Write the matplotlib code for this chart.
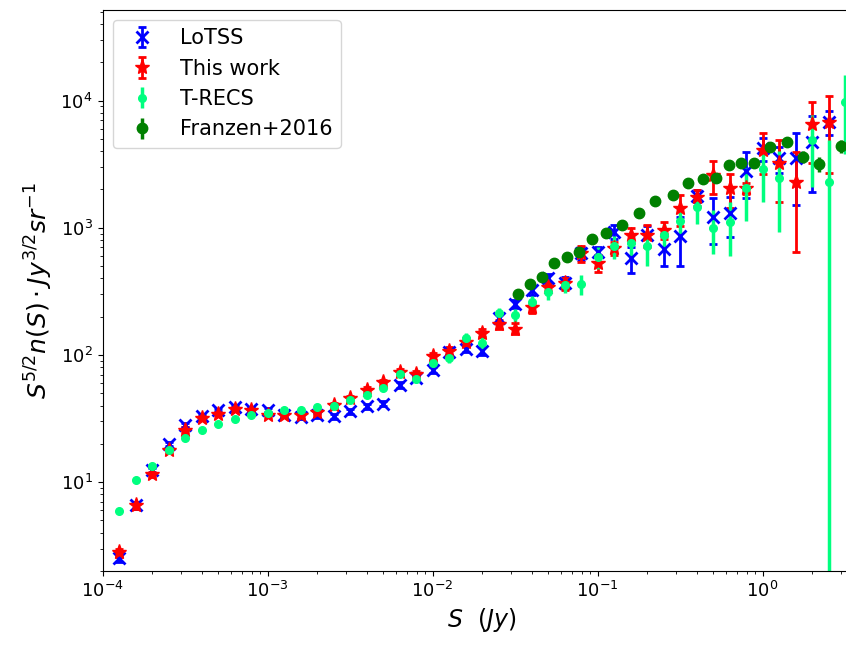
import matplotlib
matplotlib.use("Agg")
import matplotlib.pyplot as plt
import numpy as np

# flux-density bin centres (log10 S in Jy), 0.1 dex spacing
log_s_bins = [-3.9, -3.8, -3.7, -3.6, -3.5, -3.4, -3.3, -3.2, -3.1, -3.0,
              -2.9, -2.8, -2.7, -2.6, -2.5, -2.4, -2.3, -2.2, -2.1, -2.0,
              -1.9, -1.8, -1.7, -1.6, -1.5, -1.4, -1.3, -1.2, -1.1, -1.0,
              -0.9, -0.8, -0.7, -0.6, -0.5, -0.4, -0.3, -0.2, -0.1, 0.0,
              0.1, 0.2, 0.3, 0.4]
log_s_trecs = log_s_bins + [0.5]

# Euclidean-normalised counts
lotss = [2.55, 6.6, 12.4, 20, 27.9, 32.9, 36.7, 39, 37.8, 36.7,
         34, 32.5, 33.5, 32.9, 36.2, 39.5, 41.4, 57.7, 66, 76,
         105, 112, 108, 194, 250, 323, 400, 370, 630, 647,
         930, 574, 880, 680, 860, 1780, 1222, 1300, 2810, 4220,
         3516, 3516, 4700, 6840]
lotss_err = [0.2, 0.4, 0.6, 0.8, 1.0, 1.1, 1.2, 1.3, 1.3, 1.3,
             1.3, 1.3, 1.4, 1.4, 1.6, 1.8, 2.0, 3, 3.5, 4.5,
             6, 7, 8, 14, 18, 25, 35, 40, 70, 60,
             120, 135, 160, 180, 360, 200, 480, 450, 1100, 900,
             800, 2000, 2800, 1500]

this_work = [2.8, 6.6, 11.5, 17.8, 25.9, 32.1, 34.6, 37.8, 36.7, 33.8,
             34, 33.5, 35.6, 40.2, 45.8, 53.4, 61.2, 73.4, 71.4, 98,
             108, 127, 150, 174, 161, 236, 340, 365, 630, 525,
             690, 877, 877, 960, 1420, 1735, 2600, 2040, 2040, 4100,
             3250, 2300, 6500, 6800]
this_work_err = [0.2, 0.4, 0.6, 0.8, 1.0, 1.1, 1.2, 1.3, 1.3, 1.3,
                 1.3, 1.3, 1.4, 1.6, 1.8, 2.2, 2.6, 3.5, 4, 6,
                 7, 9, 11, 14, 16, 22, 30, 40, 95, 80,
                 80, 120, 170, 150, 380, 250, 750, 600, 200, 1450,
                 1650, 1650, 3300, 4100]

# no T-RECS value in the 10^0.2 Jy bin
trecs = [5.9, 10.4, 13.5, 17.8, 22.2, 25.9, 28.8, 31.2, 33.5, 34.9,
         37.2, 37.2, 38.9, 39.5, 44, 48.2, 55, 71.4, 65.2, 86,
         95, 137, 124, 212, 206, 261, 313, 355, 362, 591,
         718, 754, 718, 877, 1130, 1462, 1000, 1100, 2040, 2900,
         2480, np.nan, 4900, 2300, 9800]
trecs_err = [0.1, 0.2, 0.3, 0.4, 0.5, 0.6, 0.7, 0.8, 0.9, 1.0,
             1.2, 1.3, 1.5, 1.7, 2.0, 2.5, 3, 4, 5, 7,
             9, 12, 14, 20, 25, 32, 42, 50, 65, 120,
             150, 150, 220, 200, 250, 400, 380, 500, 900, 1300,
             1550, np.nan, 2800, 2600, 6000]

franzen_s = [0.0331, 0.0390, 0.0459, 0.0547, 0.0650, 0.0776, 0.0927, 0.1127,
             0.1407, 0.179, 0.223, 0.285, 0.355, 0.438, 0.522, 0.629,
             0.736, 0.888, 1.11, 1.40, 1.77, 2.20, 2.97]
franzen = [301, 358, 411, 524, 585, 647, 822, 914,
           1050, 1298, 1637, 1808, 2259, 2404, 2440, 3115,
           3216, 3250, 4296, 4730, 3622, 3175, 4393]
franzen_err = [3, 4, 4, 5, 6, 7, 8, 9,
               10, 13, 16, 18, 22, 26, 30, 40,
               50, 60, 90, 150, 400, 450, 500]

s_bins = 10 ** np.array(log_s_bins)
s_trecs = 10 ** np.array(log_s_trecs)

fig = plt.figure(figsize=(8.46, 6.46), dpi=100)
ax = fig.add_axes([102.5 / 846, 1 - 571 / 646, 759.4 / 846, 561.5 / 646])

ax.errorbar(s_bins, lotss, yerr=lotss_err, fmt='x', color='blue',
            markersize=9, markeredgewidth=2, capsize=3, elinewidth=2,
            capthick=2, label='LoTSS')
ax.errorbar(s_bins, this_work, yerr=this_work_err, fmt='*', color='red',
            markersize=11, capsize=3, elinewidth=2, capthick=2,
            label='This work')
ax.errorbar(s_trecs, trecs, yerr=trecs_err, fmt='o', color='springgreen',
            markersize=5.5, elinewidth=2.5, label='T-RECS')
ax.errorbar(franzen_s, franzen, yerr=franzen_err, fmt='o', color='green',
            markersize=7.5, elinewidth=2.5, label='Franzen+2016')

ax.set_xscale('log')
ax.set_yscale('log')
ax.set_xlim(1e-4, 4)
ax.set_ylim(2, 5.2e4)

ax.set_xlabel(r'$S\ \ (Jy)$', fontsize=17)
ax.set_ylabel(r'$S^{5/2}n(S)\cdot Jy^{3/2}sr^{-1}$', fontsize=18)
ax.tick_params(axis='both', which='major', labelsize=13)

ax.legend(loc='upper left', fontsize=15)

fig.savefig('out.png', dpi=100)
